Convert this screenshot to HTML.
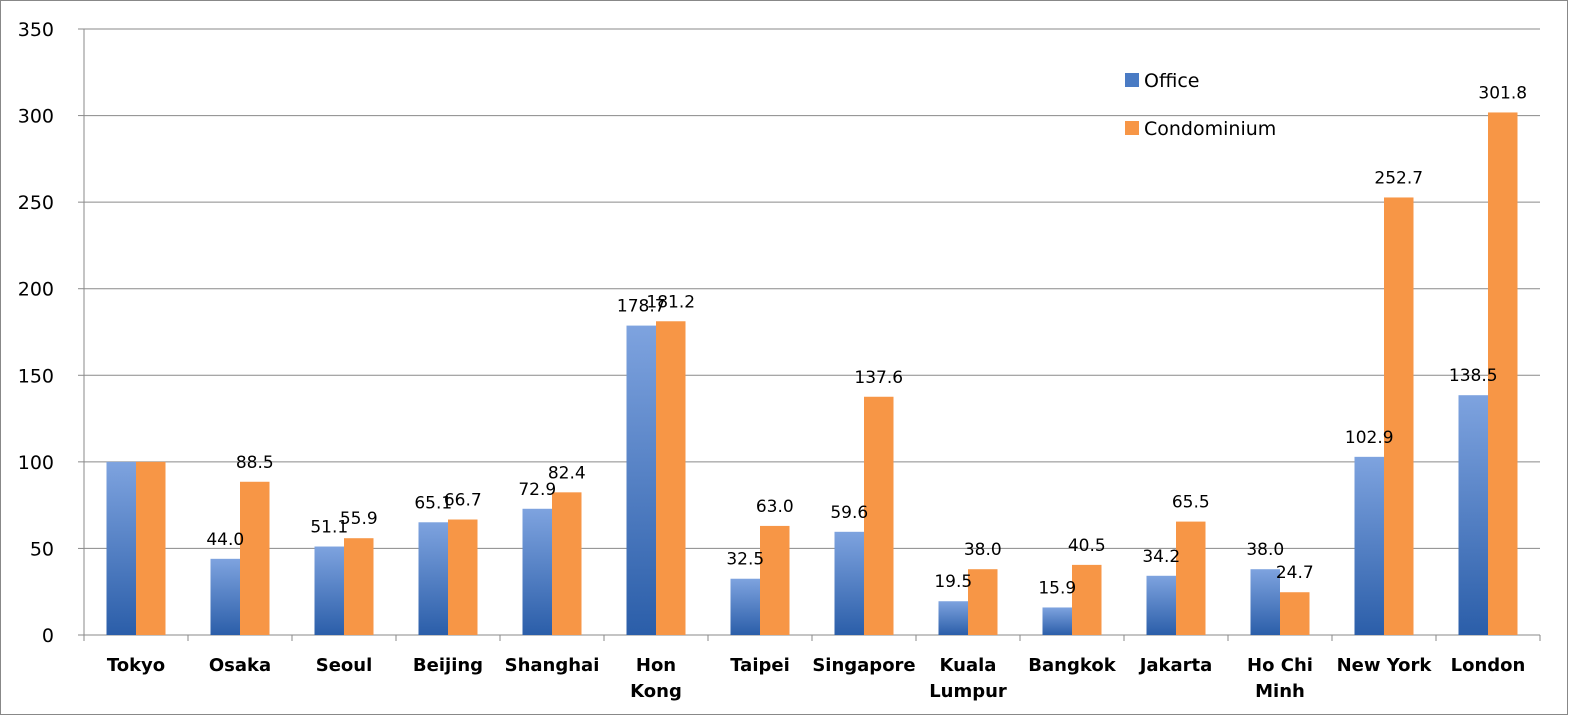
<!DOCTYPE html>
<html><head><meta charset="utf-8"><style>
body{margin:0;background:#fff}
svg{display:block;font-family:"DejaVu Sans","Liberation Sans",sans-serif}
</style></head><body>
<svg id="chart" width="1569" height="716" xmlns="http://www.w3.org/2000/svg">
<defs>
<linearGradient id="og" x1="0" y1="0" x2="0" y2="1">
<stop offset="0" stop-color="#7ea3df"/><stop offset="1" stop-color="#2b5ea9"/>
</linearGradient>
</defs>
<rect x="0.5" y="0.5" width="1567" height="714" fill="#fff" stroke="#888"/>
<g id="grid"></g><g id="bars"></g><g id="labels"></g>
<g>
<rect x="1125" y="73" width="14" height="14" fill="#4a7bc4"/>
<text x="1144" y="87" font-size="19">Office</text>
<rect x="1125" y="121" width="14" height="14" fill="#f79646"/>
<text x="1144" y="135" font-size="19">Condominium</text>
</g>
</svg>
<script>
const categories=[["Tokyo"],["Osaka"],["Seoul"],["Beijing"],["Shanghai"],["Hon","Kong"],["Taipei"],["Singapore"],["Kuala","Lumpur"],["Bangkok"],["Jakarta"],["Ho Chi","Minh"],["New York"],["London"]];
const office=[100,44.0,51.1,65.1,72.9,178.7,32.5,59.6,19.5,15.9,34.2,38.0,102.9,138.5];
const condo=[100,88.5,55.9,66.7,82.4,181.2,63.0,137.6,38.0,40.5,65.5,24.7,252.7,301.8];
const showLabel=[false,true,true,true,true,true,true,true,true,true,true,true,true,true];
const yTicks=[0,50,100,150,200,250,300,350];
const NS="http://www.w3.org/2000/svg";
const x0=84,x1=1540,yb=635,yt=29,ymax=350;
const y=v=>yb-(v/ymax)*(yb-yt);
const band=(x1-x0)/categories.length;
const cx=i=>x0+band*i+band/2;
function mk(tag,attrs,parent,txt){const e=document.createElementNS(NS,tag);for(const k in attrs)e.setAttribute(k,attrs[k]);if(txt!==undefined)e.textContent=txt;parent.appendChild(e);return e;}
const grid=document.getElementById('grid'),bars=document.getElementById('bars'),labels=document.getElementById('labels');
yTicks.forEach(t=>{
 if(t>0){const g=mk('line',{x1:x0,x2:x1,y1:y(t),y2:y(t),stroke:'#8a8a8a','stroke-width':1},grid);
 
 }
 const tk=mk('line',{x1:x0-6,x2:x0,y1:y(t),y2:y(t),stroke:'#8a8a8a'},grid);
 
 
 const tl=mk('text',{x:x0-30,y:y(t)+7,'font-size':19,'text-anchor':'end'},grid,String(t));
 
 
});
const ax=mk('line',{x1:x0,x2:x0,y1:yt,y2:yb,stroke:'#8a8a8a'},grid);


const bx=mk('line',{x1:x0,x2:x1,y1:yb,y2:yb,stroke:'#8a8a8a'},grid);


for(let i=0;i<=categories.length;i++){
 const t=mk('line',{x1:x0+band*i,x2:x0+band*i,y1:yb,y2:yb+6,stroke:'#8a8a8a'},grid);
 
 
}
const bw=29.5;
categories.forEach((c,i)=>{
 const c0=cx(i);
 const ob=mk('rect',{x:c0-bw,y:y(office[i]),width:bw,height:yb-y(office[i]),fill:'url(#og)'},bars);
 
 
 const cb=mk('rect',{x:c0,y:y(condo[i]),width:bw,height:yb-y(condo[i]),fill:'#f79646'},bars);
 
 
 if(showLabel[i]){
  const l1=mk('text',{x:c0-bw/2,y:y(office[i])-14,'font-size':17,'text-anchor':'middle'},labels,office[i].toFixed(1));
  
  
  const l2=mk('text',{x:c0+bw/2,y:y(condo[i])-14,'font-size':17,'text-anchor':'middle'},labels,condo[i].toFixed(1));
  
  
 }
 c.forEach((s,j)=>{
  const t=mk('text',{x:c0,y:671+j*26,'font-size':18,'font-weight':'bold','text-anchor':'middle'},labels,s);
  
  
 });
});
</script>
</body></html>
